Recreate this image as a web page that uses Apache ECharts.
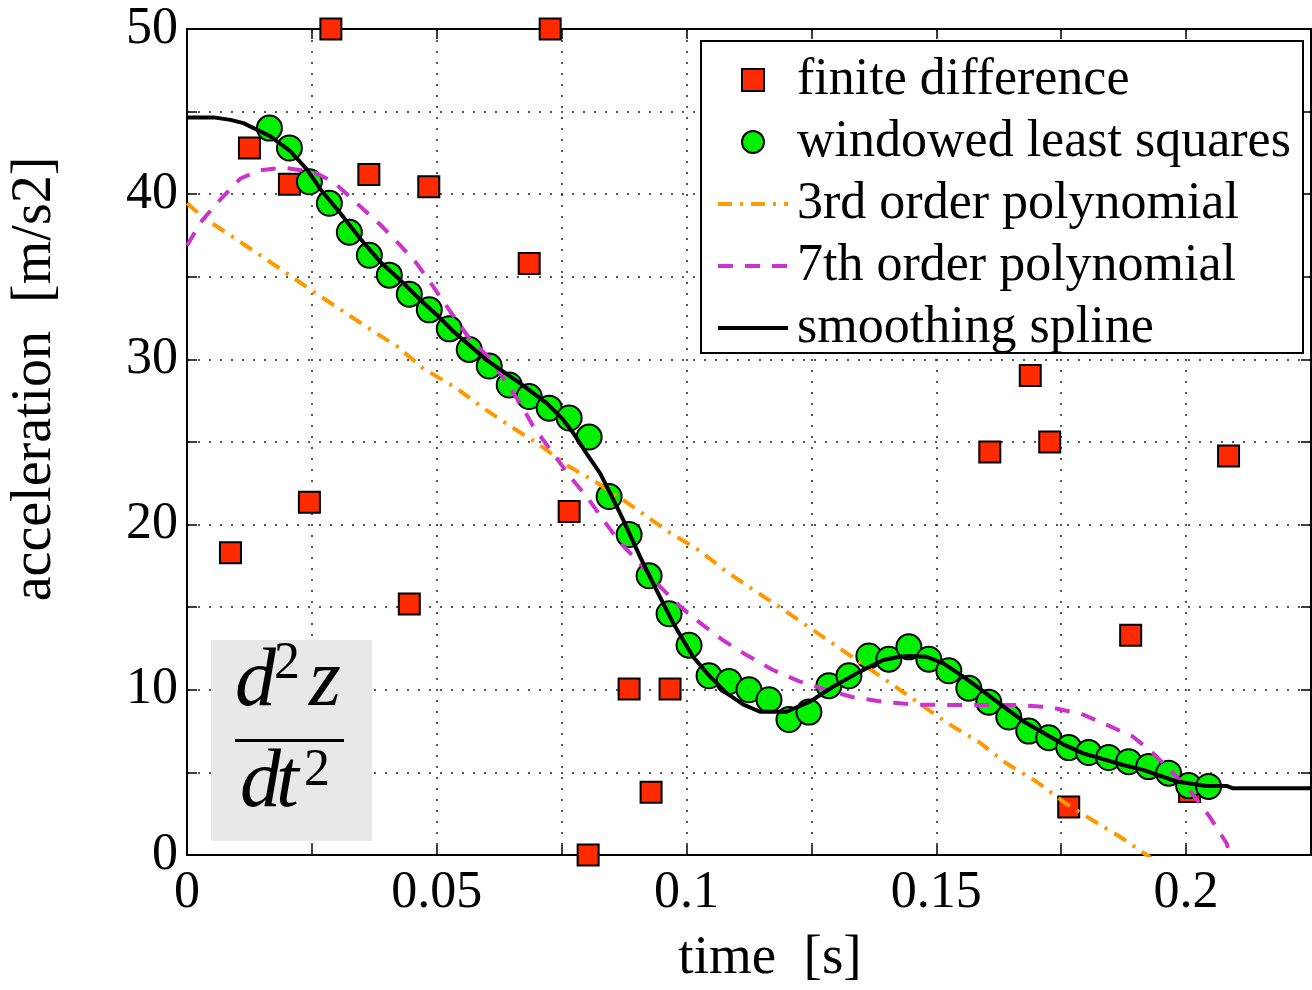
<!DOCTYPE html>
<html>
<head>
<meta charset="utf-8">
<script src="https://cdn.jsdelivr.net/npm/echarts@6/dist/echarts.min.js"></script>
<style>
  html, body { margin: 0; padding: 0; background: #ffffff; }
  #chart { width: 1312px; height: 990px; }
</style>
</head>
<body>
<div id="chart"></div>
<script>
// ---- data: second derivative estimates of z(t) ----

// raw finite difference estimates (values outside [0, 50] sit on the frame)
const fdTime  = [0.0087, 0.0125, 0.0205, 0.0245, 0.0288, 0.0364, 0.0445, 0.0484, 0.0685, 0.0727, 0.0765,
                 0.0803, 0.0885, 0.0929, 0.0967, 0.1607, 0.1688, 0.1727, 0.1765, 0.1889, 0.2007, 0.2085];
const fdAccel = [18.3, 42.8, 40.6, 21.35, 50, 41.2, 15.2, 40.45, 35.8, 50, 20.8,
                 0, 10.05, 3.8, 10.05, 24.4, 29.03, 25.0, 2.9, 13.3, 3.85, 24.15];

// windowed least squares estimates
const wlsTime  = [0.0165, 0.0205, 0.0245, 0.0285, 0.0325, 0.0365, 0.0405, 0.0445, 0.0485, 0.0525, 0.0565, 0.0605,
                  0.0645, 0.0685, 0.0725, 0.0765, 0.0805, 0.0845, 0.0885, 0.0925, 0.0965, 0.1005, 0.1045, 0.1085,
                  0.1125, 0.1165, 0.1205, 0.1245, 0.1285, 0.1325, 0.1365, 0.1405, 0.1445, 0.1485, 0.1525, 0.1565,
                  0.1605, 0.1645, 0.1685, 0.1725, 0.1765, 0.1805, 0.1845, 0.1885, 0.1925, 0.1965, 0.2005, 0.2045];
const wlsAccel = [44.0, 42.8, 40.75, 39.45, 37.7, 36.3, 35.1, 33.95, 33.0, 31.85, 30.6, 29.6,
                  28.45, 27.75, 27.05, 26.45, 25.3, 21.7, 19.4, 16.9, 14.6, 12.7, 10.85, 10.5,
                  10.0, 9.4, 8.2, 8.65, 10.25, 10.85, 12.05, 11.85, 12.6, 11.85, 11.15, 10.1,
                  9.25, 8.35, 7.5, 7.1, 6.5, 6.2, 5.9, 5.65, 5.35, 4.95, 4.2, 4.15];

// 3rd order polynomial fit
const cubicTime  = [0, 0.003, 0.0087, 0.0147, 0.02, 0.0253, 0.0313, 0.0373, 0.042, 0.0473, 0.054, 0.0593,
                    0.0653, 0.0707, 0.076, 0.082, 0.088, 0.0967, 0.1027, 0.108, 0.1134, 0.1194, 0.1254,
                    0.1307, 0.136, 0.142, 0.1474, 0.1527, 0.1587, 0.164, 0.17, 0.176, 0.1813, 0.1873,
                    0.1921, 0.194];
const cubicAccel = [39.45, 38.65, 37.5, 36.3, 35.2, 34.1, 32.9, 31.7, 30.8, 29.45, 28.25, 27.05,
                    25.85, 24.8, 23.6, 22.55, 21.35, 19.5, 18.4, 17.15, 16.05, 14.85, 13.6,
                    12.5, 11.4, 10.15, 9.0, 7.9, 6.8, 5.55, 4.45, 3.1, 2.1, 1.0,
                    0.0, -0.4];

// 7th order polynomial fit
const septicTime  = [0, 0.003, 0.0066, 0.0107, 0.0147, 0.0193, 0.0253, 0.0293, 0.034, 0.0387, 0.0427, 0.046,
                     0.0493, 0.0527, 0.0567, 0.0607, 0.064, 0.0667, 0.0693, 0.0733, 0.0767, 0.08, 0.0833,
                     0.0867, 0.0907, 0.0947, 0.0987, 0.1027, 0.1073, 0.112, 0.1173, 0.1227, 0.128, 0.1333,
                     0.14, 0.1461, 0.1527, 0.1594, 0.1661, 0.1727, 0.1794, 0.1847, 0.1894, 0.1934, 0.1974,
                     0.2007, 0.2047, 0.2081, 0.2085];
const septicAccel = [36.9, 38.4, 39.65, 40.95, 41.45, 41.6, 41.35, 40.75, 39.45, 38.15, 36.9, 35.8,
                     34.4, 32.9, 31.2, 30.05, 28.55, 27.35, 25.95, 24.3, 22.9, 21.7, 20.3,
                     18.9, 17.65, 16.25, 15.05, 14.05, 13.0, 12.1, 11.2, 10.5, 10.0, 9.55,
                     9.25, 9.1, 9.08, 9.08, 9.08, 8.95, 8.5, 7.8, 7.16, 6.16, 4.95,
                     3.93, 2.32, 0.71, 0.3];

// smoothing spline
const splineTime  = [0, 0.0053, 0.0087, 0.0113, 0.014, 0.0167, 0.0207, 0.024, 0.0267, 0.0307, 0.0347, 0.0387,
                     0.0427, 0.0467, 0.0507, 0.0533, 0.06, 0.0667, 0.072, 0.0753, 0.0773, 0.08, 0.0827,
                     0.0847, 0.0873, 0.0907, 0.0933, 0.0973, 0.1013, 0.1047, 0.108, 0.1114, 0.1147, 0.12,
                     0.1247, 0.1294, 0.1347, 0.1394, 0.1427, 0.1447, 0.148, 0.1514, 0.1554, 0.1594, 0.1634,
                     0.1674, 0.1714, 0.1754, 0.1794, 0.1834, 0.1874, 0.1914, 0.1981, 0.2041, 0.2081, 0.2094,
                     0.225];
const splineAccel = [44.65, 44.65, 44.5, 44.3, 43.9, 43.5, 42.6, 41.5, 40.3, 38.85, 37.3, 35.9,
                     34.8, 33.6, 32.5, 31.7, 29.95, 28.55, 27.35, 26.35, 25.55, 24.3, 23.1,
                     21.9, 20.3, 18.05, 16.45, 14.05, 12.0, 10.8, 9.8, 9.1, 8.67, 8.67,
                     9.28, 10.2, 11.1, 11.8, 12.0, 12.05, 12.0, 11.6, 10.8, 9.9, 9.0,
                     8.1, 7.4, 6.7, 6.15, 5.8, 5.45, 5.15, 4.45, 4.18, 4.18, 4.04,
                     4.04];

// axis ticks that carry a label
const xTickValues = [0, 0.05, 0.1, 0.15, 0.2];
const xTickLabels = ['0', '0.05', '0.1', '0.15', '0.2'];
const yTickValues = [0, 10, 20, 30, 40, 50];
const yTickLabels = ['0', '10', '20', '30', '40', '50'];

// ---- drawing ----
const SERIF = '"Liberation Serif", "Times New Roman", Times, serif';

function zip(xs, ys) { return xs.map((x, i) => [x, ys[i]]); }
function labelFor(values, labels) {
  return function (v) {
    const i = values.findIndex(t => Math.abs(t - v) < 1e-9);
    return i >= 0 ? labels[i] : '';
  };
}
function mathText(x, y, text, font) {
  return {
    type: 'text', z: 4, x: x, y: y,
    style: { text: text, font: font, fill: '#000', align: 'left', verticalAlign: 'middle',
             textAlign: 'left', textVerticalAlign: 'middle' }
  };
}

const tickStyle = { show: true, inside: true, length: 10, lineStyle: { color: '#000', width: 1.5 } };
const frameLine = { show: true, onZero: false, lineStyle: { color: '#000', width: 2 } };
const dotted = { show: true, lineStyle: { color: '#222', width: 1.5, type: [2, 9] } };
const hiddenIcon = { opacity: 0, color: 'rgba(0,0,0,0)', borderWidth: 0 };

const chart = echarts.init(document.getElementById('chart'), null, { renderer: 'canvas' });

chart.setOption({
  animation: false,
  backgroundColor: '#ffffff',
  grid: { left: 187, top: 29, right: 1, bottom: 135, outerBoundsMode: 'none', containLabel: false },
  xAxis: [
    {
      type: 'value', position: 'bottom', min: 0, max: 0.225, interval: 0.025,
      axisLine: frameLine, axisTick: tickStyle, splitLine: dotted,
      axisLabel: {
        color: '#000', fontFamily: SERIF, fontSize: 52, margin: 12,
        formatter: labelFor(xTickValues, xTickLabels)
      },
      name: 'time  [s]', nameLocation: 'middle', nameGap: 76,
      nameTextStyle: { color: '#000', fontFamily: SERIF, fontSize: 55, padding: [0, 0, 0, 42] }
    },
    {
      type: 'value', position: 'top', min: 0, max: 0.225, interval: 0.025,
      axisLine: frameLine, axisTick: tickStyle, splitLine: { show: false }, axisLabel: { show: false }
    }
  ],
  yAxis: [
    {
      type: 'value', position: 'left', min: 0, max: 50, interval: 5,
      axisLine: frameLine, axisTick: tickStyle, splitLine: dotted,
      axisLabel: {
        color: '#000', fontFamily: SERIF, fontSize: 52, margin: 9,
        formatter: labelFor(yTickValues, yTickLabels)
      },
      name: 'acceleration  [m/s2]', nameLocation: 'middle', nameGap: 124, nameRotate: 90,
      nameTextStyle: { color: '#000', fontFamily: SERIF, fontSize: 56, padding: [0, 0, 0, 126] }
    },
    {
      type: 'value', position: 'right', min: 0, max: 50, interval: 5,
      axisLine: frameLine, axisTick: tickStyle, splitLine: { show: false }, axisLabel: { show: false }
    }
  ],
  legend: {
    orient: 'vertical', left: 716, top: 54, padding: 0, z: 10,
    itemWidth: 70, itemHeight: 22, itemGap: 10,
    symbolKeepAspect: true,
    selectedMode: false,
    lineStyle: { width: 4 },
    textStyle: { color: '#000', fontFamily: SERIF, fontSize: 52, lineHeight: 52, padding: [0, 0, 0, 4] },
    data: [
      { name: 'finite difference', icon: 'path://M0,0h20v20h-20z' },
      { name: 'windowed least squares', icon: 'circle' },
      { name: '3rd order polynomial', itemStyle: hiddenIcon },
      { name: '7th order polynomial', itemStyle: hiddenIcon },
      { name: 'smoothing spline', itemStyle: hiddenIcon }
    ]
  },
  graphic: [
    // legend frame
    { type: 'rect', z: 3, shape: { x: 701, y: 41, width: 602, height: 312 },
      style: { fill: '#ffffff', stroke: '#000000', lineWidth: 2 } },
    // d^2 z / dt^2 label box
    { type: 'rect', z: 3, shape: { x: 211, y: 640, width: 161, height: 201 }, style: { fill: '#e8e8e8' } },
    { type: 'rect', z: 4, shape: { x: 235, y: 739, width: 109, height: 3 }, style: { fill: '#000' } },
    mathText(235, 683, 'd', 'italic 82px ' + SERIF),
    mathText(274, 664, '2', '52px ' + SERIF),
    mathText(309, 683, 'z', 'italic 82px ' + SERIF),
    mathText(240, 784, 'd', 'italic 82px ' + SERIF),
    mathText(276, 784, 't', 'italic 82px ' + SERIF),
    mathText(304, 771, '2', '52px ' + SERIF)
  ],
  series: [
    {
      name: 'finite difference', type: 'scatter', symbol: 'rect', symbolSize: 21, clip: false,
      itemStyle: { color: '#ff2a00', borderColor: '#000', borderWidth: 2, opacity: 1 },
      emphasis: { disabled: true },
      data: zip(fdTime, fdAccel)
    },
    {
      name: 'windowed least squares', type: 'scatter', symbol: 'circle', symbolSize: 25, clip: false,
      itemStyle: { color: '#00f000', borderColor: '#000', borderWidth: 2, opacity: 1 },
      emphasis: { disabled: true },
      data: zip(wlsTime, wlsAccel)
    },
    {
      name: '3rd order polynomial', type: 'line', symbol: 'none', showSymbol: false, clip: true,
      itemStyle: { color: '#ff9900' },
      lineStyle: { color: '#ff9900', width: 4, type: [14, 8, 3, 8] },
      emphasis: { disabled: true },
      data: zip(cubicTime, cubicAccel)
    },
    {
      name: '7th order polynomial', type: 'line', symbol: 'none', showSymbol: false, clip: true,
      itemStyle: { color: '#cc33cc' },
      lineStyle: { color: '#cc33cc', width: 4, type: [15, 12] },
      emphasis: { disabled: true },
      data: zip(septicTime, septicAccel)
    },
    {
      name: 'smoothing spline', type: 'line', symbol: 'none', showSymbol: false, clip: true,
      itemStyle: { color: '#000' },
      lineStyle: { color: '#000', width: 4 },
      emphasis: { disabled: true },
      data: zip(splineTime, splineAccel)
    }
  ]
});
</script>
</body>
</html>
